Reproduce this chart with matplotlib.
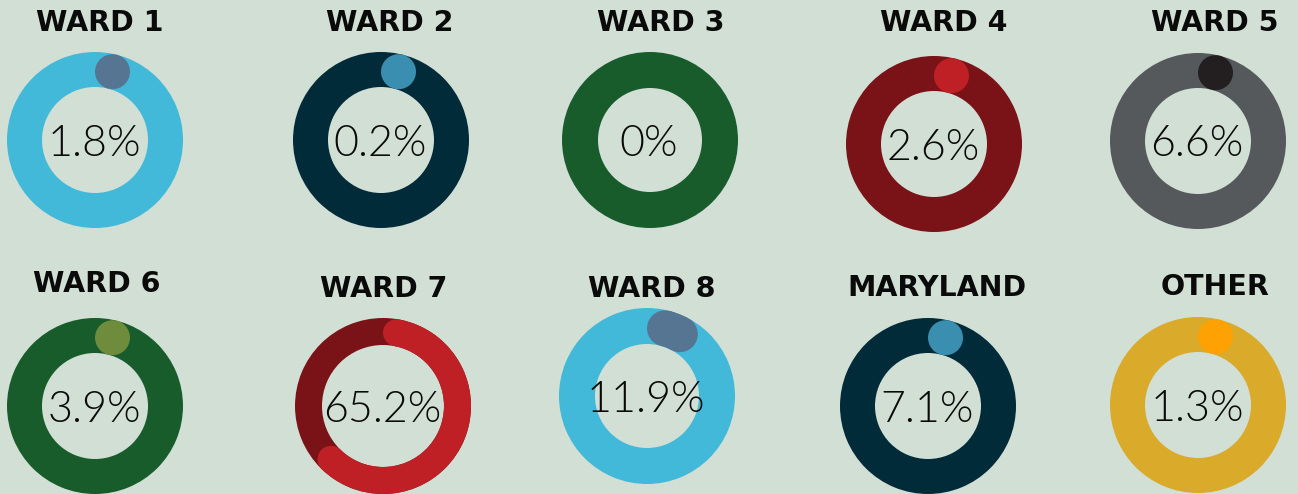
import numpy as np
import matplotlib
matplotlib.use('Agg')
import matplotlib.pyplot as plt
from matplotlib.patches import Wedge, Circle

# data
labels = ['WARD 1', 'WARD 2', 'WARD 3', 'WARD 4', 'WARD 5',
          'WARD 6', 'WARD 7', 'WARD 8', 'MARYLAND', 'OTHER']
shares = [1.8, 0.2, 0.0, 2.6, 6.6, 3.9, 65.2, 11.9, 7.1, 1.3]
pct_labels = ['1.8%', '0.2%', '0%', '2.6%', '6.6%',
              '3.9%', '65.2%', '11.9%', '7.1%', '1.3%']

# colours (ring, progress arc)
ring_colors = ['#42B9D8', '#022B3A', '#185C2C', '#7A1317', '#56595C',
               '#185C2C', '#7A1317', '#42B9D8', '#022B3A', '#DAAA2B']
arc_colors = ['#557593', '#3A8FB0', '#185C2C', '#BF2026', '#231F20',
              '#6F8B3C', '#BF2026', '#557593', '#3A8FB0', '#FEA102']

# layout in pixels (y measured from top)
W, H = 1298, 494
centers = [(95, 140), (381, 140), (650, 140), (934, 144), (1198, 141),
           (95, 406), (383, 406), (647, 396), (928, 406), (1198, 405)]
title_pos = [(100, 23), (390, 23), (661, 23), (944, 23), (1215, 23),
             (97, 284), (384, 289), (652, 289), (937, 288), (1215, 287)]
ring_width = [35, 35, 36, 35, 35, 35, 27, 36, 35, 35]
R_OUT = 88
BG = '#D1DFD5'

fig = plt.figure(figsize=(W / 100, H / 100), dpi=100, facecolor=BG)
ax = fig.add_axes([0, 0, 1, 1])
ax.set_xlim(0, W)
ax.set_ylim(0, H)
ax.set_aspect('equal')
ax.axis('off')
ax.set_facecolor(BG)

for i, lab in enumerate(labels):
    cx, cy = centers[i][0], H - centers[i][1]
    w = ring_width[i]
    rmid = R_OUT - w / 2
    ax.add_patch(Wedge((cx, cy), R_OUT, 0, 360, width=w,
                       facecolor=ring_colors[i], edgecolor='none'))

    total = shares[i] / 100 * 360
    if total > 0:
        # rounded caps sit inside the total sweep
        off = np.degrees(np.arcsin((w / 2) / rmid))
        a0 = off
        a1 = max(total - off, off)
        if a1 > a0:
            ax.add_patch(Wedge((cx, cy), R_OUT, 90 - a1, 90 - a0, width=w,
                               facecolor=arc_colors[i], edgecolor='none'))
        for a in {a0, a1}:
            t = np.radians(a)
            ax.add_patch(Circle((cx + rmid * np.sin(t), cy + rmid * np.cos(t)),
                                w / 2, facecolor=arc_colors[i], edgecolor='none'))

    ax.text(cx - 1, cy, pct_labels[i], ha='center', va='center_baseline',
            fontsize=31, family='Lato', fontweight=300, color='#0A0A0A')
    tx, ty = title_pos[i]
    ax.text(tx, H - ty, lab, ha='center', va='center',
            fontsize=20.5, family='DejaVu Sans', fontweight='bold', color='#0A0A0A')

plt.savefig('out.png', dpi=100, facecolor=BG)
plt.close()
